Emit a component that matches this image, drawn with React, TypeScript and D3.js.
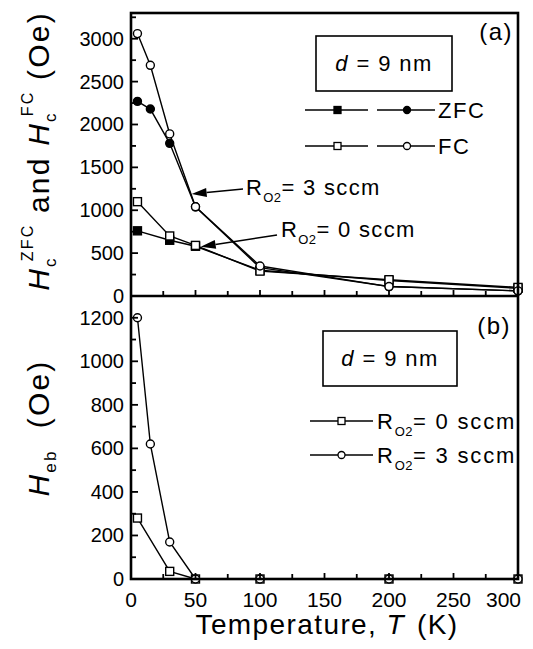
import React from "react";
import * as d3 from "d3";

// temperatures (K)
const tSquare = [5, 30, 50, 100, 200, 300];
const tCircle = [5, 15, 30, 50, 100, 200, 300];

// panel (a): coercivity, Oe
const zfc0 = [760, 650, 580, 300, 180, 90];
const fc0 = [1100, 700, 590, 290, 190, 100];
const zfc3 = [2270, 2180, 1780, 1040, 330, 110, 60];
const fc3 = [3060, 2690, 1890, 1040, 350, 110, 60];

// panel (b): exchange bias, Oe
const heb0 = [280, 35, 0, 0, 0, 0];
const heb3 = [1200, 620, 170, 0, 0, 0, 0];

const xTicks = [0, 50, 100, 150, 200, 250, 300];
const yTicksA = [0, 500, 1000, 1500, 2000, 2500, 3000];
const yTicksB = [0, 200, 400, 600, 800, 1000, 1200];

const FONT = "'Liberation Sans', Arial, sans-serif";

const L = 131, R = 518;
const A_TOP = 13, A_BOT = 296, B_TOP = 296, B_BOT = 579;

const x = d3.scaleLinear().domain([0, 300]).range([L, R]);
const yA = d3.scaleLinear().domain([0, 3300]).range([A_BOT, A_TOP]);
const yB = d3.scaleLinear().domain([0, 1300]).range([B_BOT, B_TOP]);

type Pt = [number, number];
const zip = (ts: number[], vs: number[]): Pt[] => ts.map((t, i) => [t, vs[i]]);

function Series({ pts, y, shape, filled }: { pts: Pt[]; y: d3.ScaleLinear<number, number>; shape: "sq" | "ci"; filled: boolean }) {
  const line = d3.line<Pt>().x(d => x(d[0])).y(d => y(d[1]));
  return (
    <g>
      <path d={line(pts) || ""} fill="none" stroke="#000" strokeWidth={1.4} />
      {pts.map((d, i) =>
        shape === "sq" ? (
          <rect key={i} x={x(d[0]) - 4} y={y(d[1]) - 4} width={8} height={8}
            fill={filled ? "#000" : "#fff"} stroke="#000" strokeWidth={1.4} />
        ) : (
          <circle key={i} cx={x(d[0])} cy={y(d[1])} r={4}
            fill={filled ? "#000" : "#fff"} stroke="#000" strokeWidth={1.4} />
        )
      )}
    </g>
  );
}

function Ticks({ y, major, minor, bottom }: { y: d3.ScaleLinear<number, number>; major: number[]; minor: number; bottom: number }) {
  const yMinor = d3.range(0, y.domain()[1] + 1, minor);
  const xMinor = d3.range(0, 301, 25);
  return (
    <g stroke="#000" strokeWidth={1.8}>
      {yMinor.map(v => (
        <line key={"y" + v} x1={L} x2={L + (major.includes(v) ? 7 : 5)} y1={y(v)} y2={y(v)} />
      ))}
      {xMinor.map(v => (
        <line key={"x" + v} x1={x(v)} x2={x(v)} y1={bottom} y2={bottom - (v % 50 === 0 ? 6 : 5)} />
      ))}
    </g>
  );
}

function Arrow({ x1, y1, x2, y2 }: { x1: number; y1: number; x2: number; y2: number }) {
  const a = Math.atan2(y2 - y1, x2 - x1);
  const len = 15, w = 4.5;
  const bx = x2 - len * Math.cos(a), by = y2 - len * Math.sin(a);
  const px = -Math.sin(a) * w, py = Math.cos(a) * w;
  return (
    <g>
      <line x1={x1} y1={y1} x2={bx} y2={by} stroke="#000" strokeWidth={1.6} />
      <polygon points={`${x2},${y2} ${bx + px},${by + py} ${bx - px},${by - py}`} fill="#000" />
    </g>
  );
}

function RO2({ xPos, yPos, val, ls = 1.3 }: { xPos: number; yPos: number; val: string; ls?: number }) {
  return (
    <text x={xPos} y={yPos} fontSize={22} fontFamily={FONT} letterSpacing={ls}>
      R<tspan fontSize={13} dy={7} letterSpacing={0.5}>O2</tspan>
      <tspan dy={-7}>= {val} sccm</tspan>
    </text>
  );
}

export default function App() {
  return (
    <svg width={533} height={649} style={{ position: "absolute", left: 0, top: 0, background: "#fff" }}>
      {/* panel (a) data */}
      <Series pts={zip(tSquare, zfc0)} y={yA} shape="sq" filled />
      <Series pts={zip(tCircle, zfc3)} y={yA} shape="ci" filled />
      <Series pts={zip(tSquare, fc0)} y={yA} shape="sq" filled={false} />
      <Series pts={zip(tCircle, fc3)} y={yA} shape="ci" filled={false} />

      {/* panel (b) data */}
      <Series pts={zip(tSquare, heb0)} y={yB} shape="sq" filled={false} />
      <Series pts={zip(tCircle, heb3)} y={yB} shape="ci" filled={false} />

      {/* frames */}
      <rect x={L} y={A_TOP} width={R - L} height={B_BOT - A_TOP} fill="none" stroke="#000" strokeWidth={2.6} />
      <line x1={L} x2={R} y1={A_BOT} y2={A_BOT} stroke="#000" strokeWidth={2.6} />
      <Ticks y={yA} major={yTicksA} minor={250} bottom={A_BOT} />
      <Ticks y={yB} major={yTicksB} minor={100} bottom={B_BOT} />

      {/* tick labels */}
      <g fontFamily={FONT} fontSize={20} textAnchor="end">
        {yTicksA.map(v => (
          <text key={"a" + v} x={124} y={yA(v) + 7}>{v}</text>
        ))}
        {yTicksB.map(v => (
          <text key={"b" + v} x={124} y={yB(v) + 7}>{v}</text>
        ))}
      </g>
      <g fontFamily={FONT} fontSize={21}>
        {xTicks.map((v, i) => (
          <text key={v} x={i === xTicks.length - 1 ? 521 : x(v)} y={607}
            textAnchor={i === xTicks.length - 1 ? "end" : "middle"}>{v}</text>
        ))}
      </g>

      {/* axis titles */}
      <text x={327} y={634} fontFamily={FONT} fontSize={28} letterSpacing={1.4} textAnchor="middle">
        Temperature, <tspan fontStyle="italic">T</tspan><tspan dx={12}>(K)</tspan>
      </text>
      <text transform="translate(49,151) rotate(-90)" fontFamily={FONT} fontSize={30} letterSpacing={2.2} textAnchor="middle" style={{ whiteSpace: "pre" }}>
        <tspan fontStyle="italic">H</tspan>
        <tspan fontSize={17} dy={7}>c</tspan>
        <tspan fontSize={16} dx={-5} dy={-23}>ZFC</tspan>
        <tspan dy={16}>{" and "}</tspan>
        <tspan fontStyle="italic">H</tspan>
        <tspan fontSize={17} dy={7}>c</tspan>
        <tspan fontSize={16} dx={-5} dy={-23}>FC</tspan>
        <tspan dy={16}>{" (Oe)"}</tspan>
      </text>
      <text transform="translate(49,428) rotate(-90)" fontFamily={FONT} fontSize={30} letterSpacing={2.2} textAnchor="middle" style={{ whiteSpace: "pre" }}>
        <tspan fontStyle="italic">H</tspan>
        <tspan fontSize={17} dy={7}>eb</tspan>
        <tspan dy={-7}>{"  (Oe)"}</tspan>
      </text>

      {/* panel labels */}
      <text x={513} y={40} fontFamily={FONT} fontSize={24} letterSpacing={1.5} textAnchor="end">(a)</text>
      <text x={511} y={334} fontFamily={FONT} fontSize={24} letterSpacing={1.5} textAnchor="end">(b)</text>

      {/* panel (a) legend */}
      <rect x={316} y={36} width={136} height={55} fill="#fff" stroke="#000" strokeWidth={1.6} />
      <text x={384} y={71} fontFamily={FONT} fontSize={22} letterSpacing={1.4} textAnchor="middle" style={{ whiteSpace: "pre" }}>
        <tspan fontStyle="italic">d</tspan>{" = 9 nm"}
      </text>
      {[
        { y: 110, filled: true, label: "ZFC" },
        { y: 146, filled: false, label: "FC" },
      ].map(r => (
        <g key={r.label}>
          <line x1={305} x2={368} y1={r.y} y2={r.y} stroke="#000" strokeWidth={1.3} />
          <line x1={377} x2={435} y1={r.y} y2={r.y} stroke="#000" strokeWidth={1.3} />
          <rect x={334} y={r.y - 3.5} width={7} height={7} fill={r.filled ? "#000" : "#fff"} stroke="#000" strokeWidth={1.3} />
          <circle cx={407} cy={r.y} r={3.5} fill={r.filled ? "#000" : "#fff"} stroke="#000" strokeWidth={1.3} />
          <text x={438} y={r.y + 8} fontFamily={FONT} fontSize={22} letterSpacing={1.5}>{r.label}</text>
        </g>
      ))}

      {/* annotations */}
      <Arrow x1={243} y1={189} x2={x(47)} y2={yA(1190)} />
      <RO2 xPos={246} yPos={195} val="3" />
      <Arrow x1={277} y1={235} x2={x(54)} y2={yA(575)} />
      <RO2 xPos={281} yPos={237} val="0" />

      {/* panel (b) legend */}
      <rect x={323} y={331} width={134} height={55} fill="#fff" stroke="#000" strokeWidth={1.6} />
      <text x={390} y={366} fontFamily={FONT} fontSize={22} letterSpacing={1.4} textAnchor="middle" style={{ whiteSpace: "pre" }}>
        <tspan fontStyle="italic">d</tspan>{" = 9 nm"}
      </text>
      {[
        { y: 421, shape: "sq", val: "0" },
        { y: 455, shape: "ci", val: "3" },
      ].map(r => (
        <g key={r.val}>
          <line x1={310} x2={373} y1={r.y} y2={r.y} stroke="#000" strokeWidth={1.3} />
          {r.shape === "sq" ? (
            <rect x={338} y={r.y - 3.5} width={7} height={7} fill="#fff" stroke="#000" strokeWidth={1.3} />
          ) : (
            <circle cx={341.5} cy={r.y} r={3.5} fill="#fff" stroke="#000" strokeWidth={1.3} />
          )}
          <RO2 xPos={377} yPos={r.y + 8} val={r.val} ls={1.8} />
        </g>
      ))}
    </svg>
  );
}
